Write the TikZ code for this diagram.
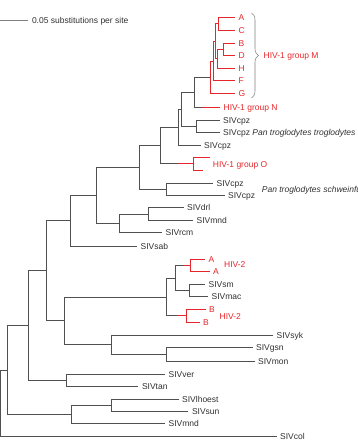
\documentclass[tikz,border=0pt]{standalone}
\usepackage{fontspec}
\setmainfont{Liberation Sans}
\usetikzlibrary{decorations.pathreplacing}
\definecolor{ln}{HTML}{505050}
\definecolor{hr}{HTML}{E5262B}
\definecolor{tx}{HTML}{303030}
\definecolor{br}{HTML}{808080}
\begin{document}
\begin{tikzpicture}[x=1pt,y=-1pt,
  gl/.style={draw=ln, line width=0.55pt},
  rl/.style={draw=hr, line width=0.55pt},
  lbl/.style={anchor=west, inner xsep=3.5pt, inner ysep=0pt, text height=6.1pt, text depth=0pt, font=\fontsize{8.5}{10}\selectfont, text=tx},
  rlbl/.style={lbl, text=hr},
  free/.style={inner xsep=0pt}]
\clip (0,0) rectangle (358,445);
% scale bar
\coordinate (s0) at (0,20.7);
\node[lbl] (scale) at (28.3,20.7) {0.05 substitutions per site};
\draw[draw=br, line width=0.55pt] (s0) -- (scale.west);

% ---------- HIV-1 group M ----------
\coordinate (nAC) at (218.3,23.75);
\coordinate (nBD) at (223.3,49.25);
\coordinate (nBDH) at (217.7,58.6);
\coordinate (nY) at (215.7,41.2);
\coordinate (nX) at (213.3,60.85);
\coordinate (nM) at (210,77.2);
\node[rlbl] (A) at (235,17.5) {A};
\node[rlbl] (C) at (235,30) {C};
\node[rlbl] (B) at (235,43) {B};
\node[rlbl] (D) at (235,55.5) {D};
\node[rlbl] (H) at (235,68) {H};
\node[rlbl] (F) at (235,80.5) {F};
\node[rlbl] (G) at (235,93.5) {G};
\draw[rl] (nAC) |- (A.west);
\draw[rl] (nAC) |- (C.west);
\draw[rl] (nBD) |- (B.west);
\draw[rl] (nBD) |- (D.west);
\draw[rl] (nBDH) |- (nBD);
\draw[rl] (nBDH) |- (H.west);
\draw[rl] (nY) |- (nAC);
\draw[rl] (nY) |- (nBDH);
\draw[rl] (nX) |- (nY);
\draw[rl] (nX) |- (F.west);
\draw[rl] (nM) |- (nX);
\draw[rl] (nM) |- (G.west);
\coordinate (bt) at (251.5,13);
\coordinate (bb) at (251.5,98);
\draw[draw=br, line width=0.55pt, decorate, decoration={brace, amplitude=7pt}] (bt) -- (bb);
\node[rlbl, free] (grpM) at (263.5,55) {HIV-1 group M};

% ---------- HIV-1 group N and SIVcpz ----------
\coordinate (nMN) at (194,92.1);
\coordinate (sN) at (202,107);
\node[rlbl] (N) at (220,107) {HIV-1 group N};
\draw[gl] (nMN) |- (nM);
\draw[gl] (nMN) |- (sN);
\draw[rl] (sN) -- (N.west);
\coordinate (nC1) at (196.7,126.25);
\node[lbl] (cpz1) at (219.5,120.5) {SIVcpz};
\node[lbl] (cpz2) at (219.5,132) {SIVcpz \textit{Pan troglodytes troglodytes}};
\draw[gl] (nC1) |- (cpz1.west);
\draw[gl] (nC1) |- (cpz2.west);
\coordinate (nP) at (181.7,109.2);
\draw[gl] (nP) |- (nMN);
\draw[gl] (nP) |- (nC1);
\coordinate (nQ) at (178.3,127.1);
\node[lbl] (cpz3) at (200.5,145) {SIVcpz};
\draw[gl] (nQ) |- (nP);
\draw[gl] (nQ) |- (cpz3.west);

% ---------- HIV-1 group O ----------
\coordinate (nO) at (193,163.75);
\coordinate (eO1) at (210,157.5);
\coordinate (eO2) at (203,170);
\coordinate (sO) at (178,163.75);
\draw[rl] (nO) |- (eO1);
\draw[rl] (nO) |- (eO2);
\node[rlbl, free] (grpO) at (212.7,164) {HIV-1 group O};
\coordinate (nR) at (160.7,145.4);
\draw[gl] (nR) |- (nQ);
\draw[gl] (nR) |- (sO);
\draw[rl] (sO) -- (nO);

% ---------- SIVcpz schweinfurthii ----------
\coordinate (nC2) at (166.7,189);
\node[lbl] (cpz4) at (213,183) {SIVcpz};
\node[lbl] (cpz5) at (224.5,195) {SIVcpz};
\draw[gl] (nC2) |- (cpz4.west);
\draw[gl] (nC2) |- (cpz5.west);
\node[lbl, free, font=\fontsize{8.5}{10}\selectfont\itshape] (pts) at (261.7,189.3) {Pan troglodytes schweinfurthii};
\coordinate (nS) at (139.3,167.2);
\draw[gl] (nS) |- (nR);
\draw[gl] (nS) |- (nC2);

% ---------- drl / mnd / rcm / sab ----------
\coordinate (nDM) at (148,213.85);
\node[lbl] (drl) at (183.5,207.7) {SIVdrl};
\node[lbl] (mnd1) at (193,220) {SIVmnd};
\draw[gl] (nDM) |- (drl.west);
\draw[gl] (nDM) |- (mnd1.west);
\coordinate (nT) at (119.3,223.3);
\node[lbl] (rcm) at (162,232.7) {SIVrcm};
\draw[gl] (nT) |- (nDM);
\draw[gl] (nT) |- (rcm.west);
\coordinate (nU) at (96.7,195.25);
\draw[gl] (nU) |- (nS);
\draw[gl] (nU) |- (nT);
\coordinate (nV) at (70,220.6);
\node[lbl] (sab) at (137,246) {SIVsab};
\draw[gl] (nV) |- (nU);
\draw[gl] (nV) |- (sab.west);

% ---------- HIV-2 / SIVsm ----------
\coordinate (nA2) at (190,265.5);
\node[rlbl] (A2a) at (205,259.3) {A};
\node[rlbl] (A2b) at (209.5,271.7) {A};
\draw[rl] (nA2) |- (A2a.west);
\draw[rl] (nA2) |- (A2b.west);
\node[rlbl, free] (h2a) at (224,264.5) {HIV-2};
\coordinate (nSM) at (189.3,290.15);
\node[lbl] (sm) at (205,284.3) {SIVsm};
\node[lbl] (mac) at (208,296) {SIVmac};
\draw[gl] (nSM) |- (sm.west);
\draw[gl] (nSM) |- (mac.west);
\coordinate (nH2A) at (175,277.8);
\coordinate (sA) at (184,265.5);
\draw[gl] (nH2A) |- (sA);
\draw[rl] (sA) -- (nA2);
\draw[gl] (nH2A) |- (nSM);
\coordinate (nB2) at (186,315.75);
\node[rlbl] (B2a) at (205.5,309.5) {B};
\node[rlbl] (B2b) at (199.5,322) {B};
\draw[rl] (nB2) |- (B2a.west);
\draw[rl] (nB2) |- (B2b.west);
\node[rlbl, free] (h2b) at (219.5,316.5) {HIV-2};
\coordinate (nW) at (166,296.8);
\coordinate (sB) at (177,315.75);
\draw[gl] (nW) |- (nH2A);
\draw[gl] (nW) |- (sB);
\draw[rl] (sB) -- (nB2);

% ---------- syk / gsn / mon ----------
\coordinate (nGM) at (166.7,354.25);
\node[lbl] (gsn) at (252.5,347.5) {SIVgsn};
\node[lbl] (mon) at (254.5,361) {SIVmon};
\draw[gl] (nGM) |- (gsn.west);
\draw[gl] (nGM) |- (mon.west);
\coordinate (nSyk) at (111,344.6);
\node[lbl] (syk) at (273,335) {SIVsyk};
\draw[gl] (nSyk) |- (syk.west);
\draw[gl] (nSyk) |- (nGM);
\coordinate (nHS) at (64.3,320.7);
\draw[gl] (nHS) |- (nW);
\draw[gl] (nHS) |- (nSyk);
\coordinate (nX2) at (46.3,270.65);
\draw[gl] (nX2) |- (nV);
\draw[gl] (nX2) |- (nHS);

% ---------- ver / tan ----------
\coordinate (nVT) at (66,380.25);
\node[lbl] (ver) at (165,374) {SIVver};
\node[lbl] (tan) at (138.3,386.5) {SIVtan};
\draw[gl] (nVT) |- (ver.west);
\draw[gl] (nVT) |- (tan.west);
\coordinate (nY2) at (28.3,325.45);
\draw[gl] (nY2) |- (nX2);
\draw[gl] (nY2) |- (nVT);

% ---------- lhoest / sun / mnd ----------
\coordinate (nLS) at (111,405.25);
\node[lbl] (lho) at (178.5,399.5) {SIVlhoest};
\node[lbl] (sun) at (188.3,411) {SIVsun};
\draw[gl] (nLS) |- (lho.west);
\draw[gl] (nLS) |- (sun.west);
\coordinate (nLSM) at (71,414.4);
\node[lbl] (mnd2) at (165,423.5) {SIVmnd};
\draw[gl] (nLSM) |- (nLS);
\draw[gl] (nLSM) |- (mnd2.west);
\coordinate (nZ) at (7.3,369.9);
\draw[gl] (nZ) |- (nY2);
\draw[gl] (nZ) |- (nLSM);

% ---------- root / col ----------
\coordinate (root) at (0.7,403.3);
\node[lbl] (col) at (276.5,436.7) {SIVcol};
\draw[gl] (root) |- (nZ);
\draw[gl] (root) |- (col.west);
\end{tikzpicture}
\end{document}
